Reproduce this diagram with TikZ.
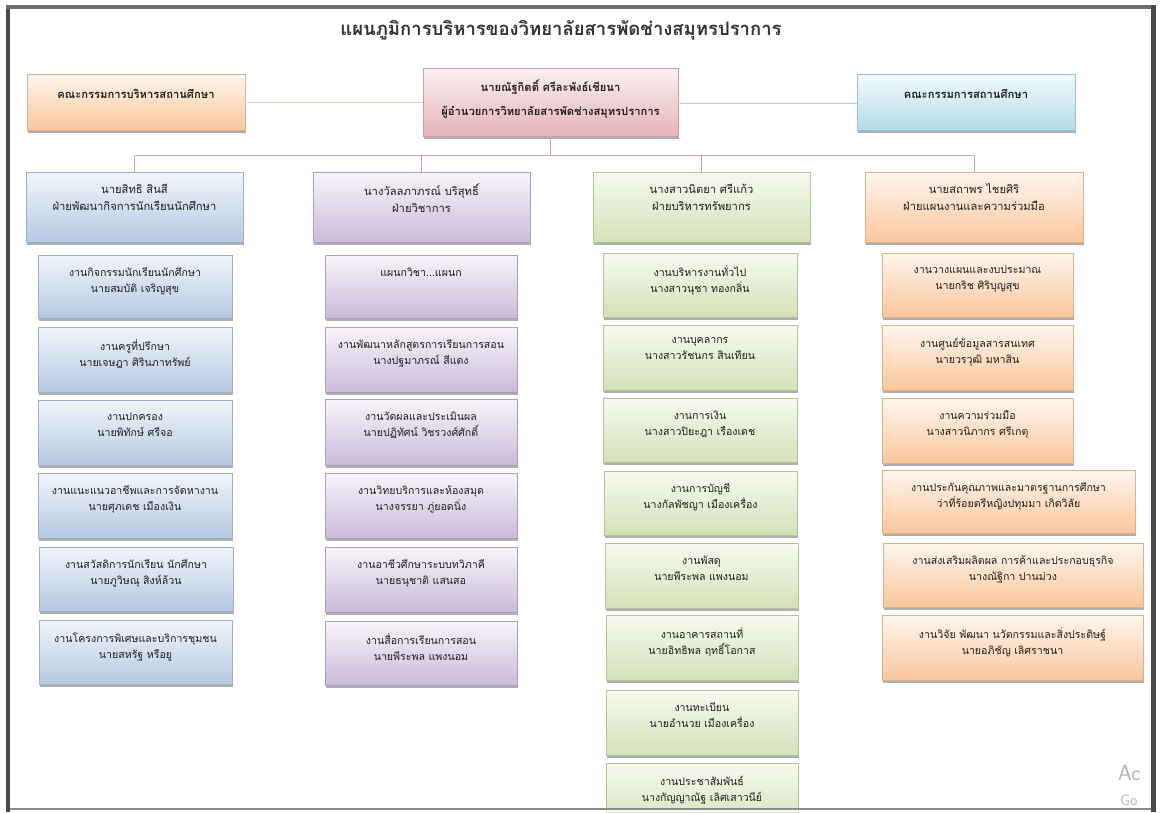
\documentclass[tikz,border=0pt]{standalone}
\usepackage{fontspec}
\newfontfamily\thai[Script=Thai]{Loma}
\usetikzlibrary{shadows}
\definecolor{bT}{HTML}{F1F5FA}\definecolor{bB}{HTML}{B5C9E2}\definecolor{bD}{HTML}{9DB0CA}
\definecolor{pT}{HTML}{F8F4FA}\definecolor{pB}{HTML}{CABBDA}\definecolor{pD}{HTML}{AE9FC0}
\definecolor{gT}{HTML}{F7FAF0}\definecolor{gB}{HTML}{D3E1B8}\definecolor{gD}{HTML}{B3C399}
\definecolor{oT}{HTML}{FEF6EE}\definecolor{oB}{HTML}{FAC69C}\definecolor{oD}{HTML}{DDB08E}
\definecolor{rT}{HTML}{FBF1F2}\definecolor{rB}{HTML}{E6B3B8}\definecolor{rD}{HTML}{CC9CA0}
\definecolor{cT}{HTML}{F3FAFC}\definecolor{cB}{HTML}{B3DCE7}\definecolor{cD}{HTML}{97C2CE}
\definecolor{busc}{HTML}{D7A3A6}
\definecolor{lc}{HTML}{F5CDB4}
\definecolor{rc}{HTML}{AAD4DF}
\definecolor{frame}{HTML}{4A4A4A}
\tikzset{
  base/.style={rectangle, inner sep=0pt, line width=0.6pt,
    drop shadow={shadow xshift=1pt, shadow yshift=-2.5pt, opacity=0.45, fill=black!70}},
  bluebox/.style={base, draw=bD, top color=bT, bottom color=bB},
  purbox/.style={base, draw=pD, top color=pT, bottom color=pB},
  grnbox/.style={base, draw=gD, top color=gT, bottom color=gB},
  orabox/.style={base, draw=oD, top color=oT, bottom color=oB},
  redbox/.style={base, draw=rD, top color=rT, bottom color=rB},
  cyabox/.style={base, draw=cD, top color=cT, bottom color=cB},
  lblbase/.style={anchor=north, inner sep=0pt, align=center, text=black!88},
  lbl/.style={lblbase, yshift=-13pt, font=\thai\fontsize{10.6}{16}\selectfont},
  hlbl/.style={lblbase, yshift=-12pt, font=\thai\fontsize{11.2}{17}\selectfont},
  clbl/.style={lblbase, yshift=-12pt, font=\thai\bfseries\fontsize{11.2}{24}\selectfont},
  tlbl/.style={lblbase, yshift=-15pt, font=\thai\bfseries\fontsize{11.2}{24}\selectfont},
  conn/.style={line width=1pt, busc},
}
\newcommand\bx[8]{\node[#2, minimum width={#5-#3}, minimum height={#6-#4},
  label={[#7]north:{#8}}] (#1) at ({(#3+#5)/2},{-(#4+#6)/2}) {};}
\begin{document}
\begin{tikzpicture}[x=1pt,y=1pt]
\useasboundingbox (0,0) rectangle (1160,-812);
\fill[white] (0,0) rectangle (1160,-812);
% title
\node[font=\thai\bfseries\fontsize{18.5}{22}\selectfont, text=black!80] (title) at (561,-30)
  {แผนภูมิการบริหารของวิทยาลัยสารพัดช่างสมุทรปราการ};
% top row
\bx{exec}{orabox}{27}{74}{245}{130}{tlbl}{คณะกรรมการบริหารสถานศึกษา}
\bx{ceo}{redbox}{423}{68}{678}{136}{clbl}{นายณัฐกิตติ์ ศรีละพังธ์เชียนา\\ผู้อำนวยการวิทยาลัยสารพัดช่างสมุทรปราการ}
\bx{board}{cyabox}{857}{74}{1075}{130}{tlbl}{คณะกรรมการสถานศึกษา}
% column heads
\bx{h1}{bluebox}{26}{172}{243}{242}{hlbl}{นายสิทธิ สินสี\\ฝ่ายพัฒนากิจการนักเรียนนักศึกษา}
\bx{h2}{purbox}{313}{172}{530}{242}{hlbl}{นางวัลลภาภรณ์ บริสุทธิ์\\ฝ่ายวิชาการ}
\bx{h3}{grnbox}{593}{172}{810}{242}{hlbl}{นางสาวนิตยา ศรีแก้ว\\ฝ่ายบริหารทรัพยากร}
\bx{h4}{orabox}{865}{172}{1083}{242}{hlbl}{นายสถาพร ไชยศิริ\\ฝ่ายแผนงานและความร่วมมือ}
% connectors
\coordinate (bus) at (0,-155);
\draw[line width=1pt, lc] (exec.east |- 0,-102) -- (ceo.west |- 0,-102);
\draw[line width=1pt, rc] (ceo.east |- 0,-103) -- (board.west |- 0,-103);
\draw[conn] (ceo.south) -- (ceo.south |- bus);
\draw[conn] (h1.north |- bus) -- (h4.north |- bus);
\foreach \h in {h1,h2,h3,h4}{\draw[conn] (\h.north |- bus) -- (\h.north);}
% column 1
\bx{a1}{bluebox}{38}{255}{232}{318}{lbl}{งานกิจกรรมนักเรียนนักศึกษา\\นายสมบัติ เจริญสุข}
\bx{a2}{bluebox}{38}{327}{232}{392}{lbl}{งานครูที่ปรึกษา\\นายเจษฎา ศิรินภาทรัพย์}
\bx{a3}{bluebox}{38}{400}{232}{465}{lbl}{งานปกครอง\\นายพิทักษ์ ศรีจอ}
\bx{a4}{bluebox}{38}{473}{232}{538}{lbl}{งานแนะแนวอาชีพและการจัดหางาน\\นายศุภเดช เมืองเงิน}
\bx{a5}{bluebox}{39}{547}{233}{611}{lbl}{งานสวัสดิการนักเรียน นักศึกษา\\นายภูวิษณุ สิงห์ล้วน}
\bx{a6}{bluebox}{39}{620}{232}{684}{lbl}{งานโครงการพิเศษและบริการชุมชน\\นายสหรัฐ หรือยู}
% column 2
\bx{b1}{purbox}{325}{255}{517}{318}{lbl}{แผนกวิชา...แผนก}
\bx{b2}{purbox}{325}{327}{517}{392}{lbl}{งานพัฒนาหลักสูตรการเรียนการสอน\\นางปฐมาภรณ์ สีแดง}
\bx{b3}{purbox}{325}{399}{517}{465}{lbl}{งานวัดผลและประเมินผล\\นายปฏิทัศน์ วิชรวงศ์ศักดิ์}
\bx{b4}{purbox}{325}{473}{517}{538}{lbl}{งานวิทยบริการและห้องสมุด\\นางจรรยา ภู่ยอดนิ่ง}
\bx{b5}{purbox}{325}{547}{517}{612}{lbl}{งานอาชีวศึกษาระบบทวิภาคี\\นายธนุชาติ แสนสอ}
\bx{b6}{purbox}{325}{621}{517}{685}{lbl}{งานสื่อการเรียนการสอน\\นายพีระพล แพงนอม}
% column 3
\bx{c1}{grnbox}{603}{253}{797}{317}{lbl}{งานบริหารงานทั่วไป\\นางสาวนุชา ทองกลิ่น}
\bx{c2}{grnbox}{603}{325}{797}{390}{lbl}{งานบุคลากร\\นางสาวรัชนกร สินเทียน}
\bx{c3}{grnbox}{603}{398}{797}{462}{lbl}{งานการเงิน\\นางสาวปิยะฎา เรืองเดช}
\bx{c4}{grnbox}{604}{471}{797}{535}{lbl}{งานการบัญชี\\นางกัลพัชญา เมืองเครื่อง}
\bx{c5}{grnbox}{605}{543}{798}{608}{lbl}{งานพัสดุ\\นายพีระพล แพงนอม}
\bx{c6}{grnbox}{606}{615}{798}{680}{lbl}{งานอาคารสถานที่\\นายอิทธิพล ฤทธิ์โอกาส}
\bx{c7}{grnbox}{606}{690}{798}{755}{lbl}{งานทะเบียน\\นายอำนวย เมืองเครื่อง}
\bx{c8}{grnbox}{606}{763}{798}{828}{lbl}{งานประชาสัมพันธ์\\นางกัญญาณัฐ เลิศเสาวนีย์}
% column 4
\bx{d1}{orabox}{882}{253}{1073}{317}{lbl}{งานวางแผนและงบประมาณ\\นายกริช ศิริบุญสุข}
\bx{d2}{orabox}{882}{325}{1073}{390}{lbl}{งานศูนย์ข้อมูลสารสนเทศ\\นายวรวุฒิ มหาสิน}
\bx{d3}{orabox}{882}{398}{1073}{463}{lbl}{งานความร่วมมือ\\นางสาวนิภากร ศรีเกตุ}
\bx{d4}{orabox}{882}{470}{1135}{533}{lbl}{งานประกันคุณภาพและมาตรฐานการศึกษา\\ว่าที่ร้อยตรีหญิงปทุมมา เกิดวิลัย}
\bx{d5}{orabox}{883}{543}{1143}{607}{lbl}{งานส่งเสริมผลิตผล การค้าและประกอบธุรกิจ\\นางณัฐิกา ปานม่วง}
\bx{d6}{orabox}{882}{615}{1143}{680}{lbl}{งานวิจัย พัฒนา นวัตกรรมและสิ่งประดิษฐ์\\นายอภิชัญ เลิศราชนา}
% watermark
\node[anchor=west, inner sep=0pt, text=black!30, font=\sffamily\fontsize{22}{22}\selectfont] (wm1) at (1118,-773) {Ac};
\node[anchor=west, inner sep=0pt, text=black!30, font=\sffamily\fontsize{15}{15}\selectfont] (wm2) at (1120,-800) {Go};
% frame
\fill[white] (0,-809) rectangle (1160,-812);
\draw[line width=2pt, black!45] (0,-809) -- (1160,-809);
\fill[white] (0,0) rectangle (6,-812);
\fill[frame] (6,-6) rectangle (10,-812);
\fill[white] (0,0) rectangle (1160,-5);
\fill[frame!80] (6,-5) rectangle (1156,-9);
\fill[white] (1156,0) rectangle (1160,-812);
\fill[frame] (1151,-5) rectangle (1156,-812);
\end{tikzpicture}
\end{document}
